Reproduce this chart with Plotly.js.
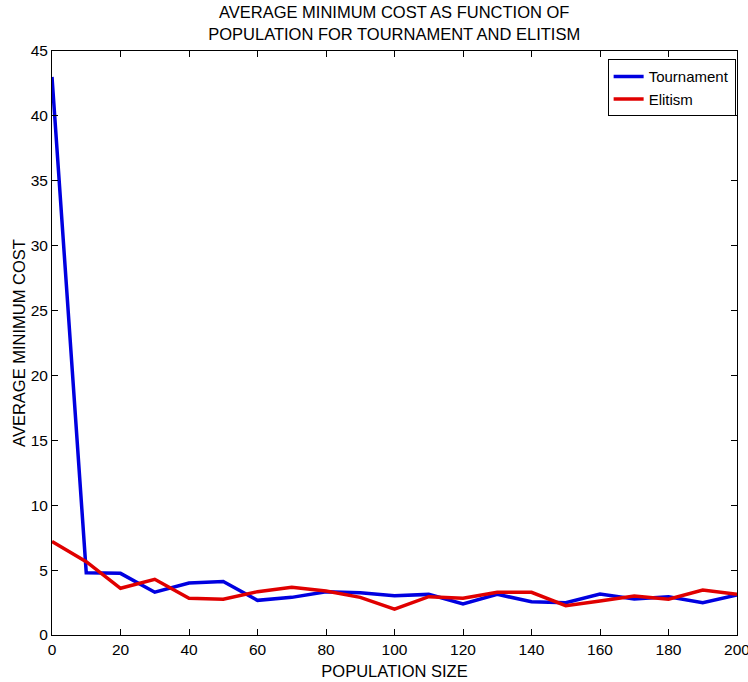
<!DOCTYPE html>
<html>
<head>
<meta charset="utf-8">
<script src="https://cdn.plot.ly/plotly-3.0.1.min.js"></script>
<style>html,body{margin:0;padding:0;background:#fff;}#chart{width:748px;height:682px;}</style>
</head>
<body>
<div id="chart"></div>
<script>
var populationSize = [0,10,20,30,40,50,60,70,80,90,100,110,120,130,140,150,160,170,180,190,200];
var tournamentCost = [43.0,4.8,4.75,3.3,4.0,4.13,2.67,2.9,3.34,3.26,3.03,3.13,2.39,3.13,2.57,2.49,3.16,2.77,2.95,2.49,3.08];
var elitismCost = [7.2,5.65,3.6,4.29,2.83,2.75,3.34,3.67,3.39,2.9,2.0,2.95,2.83,3.29,3.29,2.26,2.62,3.0,2.75,3.47,3.13];
var xTicks = [0,20,40,60,80,100,120,140,160,180,200];
var yTicks = [0,5,10,15,20,25,30,35,40,45];

var fam = 'Liberation Sans, Arial, sans-serif';
var tickFont = {family: fam, size: 15.5, color: '#000'};
var titleFont = {family: fam, size: 16.5, color: '#000'};
var traces = [
  {x: populationSize, y: tournamentCost, name: 'Tournament', mode: 'lines', line: {color: '#0000e0', width: 3.5}},
  {x: populationSize, y: elitismCost, name: 'Elitism', mode: 'lines', line: {color: '#e00000', width: 3.5}}
];
var axisCommon = {showline: true, linecolor: '#000', linewidth: 1, mirror: 'ticks', ticks: 'inside', ticklen: 6, tickcolor: '#000', showgrid: false, zeroline: false, tickfont: tickFont, ticklabeloverflow: 'allow'};
var layout = {
  width: 748, height: 682,
  margin: {l: 52, r: 11, t: 51, b: 47},
  paper_bgcolor: '#fff', plot_bgcolor: '#fff',
  font: tickFont,
  title: {text: 'AVERAGE MINIMUM COST AS FUNCTION OF<br>POPULATION FOR TOURNAMENT AND ELITISM', font: titleFont, x: 0.527, xanchor: 'center', y: 0.973, yanchor: 'top'},
  xaxis: Object.assign({}, axisCommon, {range: [0, 200], tickvals: xTicks, ticktext: xTicks.map(String), title: {text: 'POPULATION SIZE', font: titleFont, standoff: 8}}),
  yaxis: Object.assign({}, axisCommon, {range: [0, 45], tickvals: yTicks, ticktext: yTicks.map(String), title: {text: 'AVERAGE MINIMUM COST', font: titleFont, standoff: 0}}),
  legend: {x: 0.998, xanchor: 'right', y: 0.986, yanchor: 'top', bgcolor: '#fff', bordercolor: '#000', borderwidth: 1, font: {family: fam, size: 15, color: '#000'}, tracegroupgap: 0},
  showlegend: true
};
Plotly.newPlot('chart', traces, layout, {displayModeBar: false, staticPlot: true});
</script>
</body>
</html>
